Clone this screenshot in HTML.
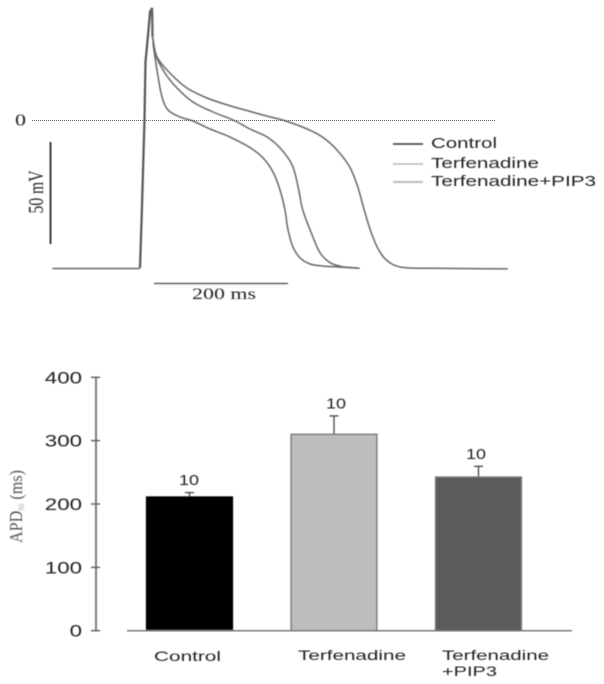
<!DOCTYPE html>
<html lang="en">
<head>
<meta charset="utf-8">
<title>Action potential traces and APD90 bar chart</title>
<style>
  html, body { margin: 0; padding: 0; background: #fff; }
  svg { display: block; }
  .sans { font-family: "Liberation Sans", sans-serif; fill: #222; }
  .serif { font-family: "Liberation Serif", serif; fill: #222; }
</style>
</head>
<body>
<svg id="figure" width="604" height="684" viewBox="0 0 604 684" xmlns="http://www.w3.org/2000/svg">
  <defs>
    <filter id="soft" x="-5%" y="-5%" width="110%" height="110%"><feGaussianBlur stdDeviation="0.4"/></filter>
  </defs>
  <rect width="604" height="684" fill="#fff"/>
  <line x1="32" y1="120.5" x2="496" y2="120.5" stroke="#666" stroke-width="1" stroke-dasharray="1 1" shape-rendering="crispEdges"/>
  <g filter="url(#soft)">
    <g id="traces">
      <text class="serif" x="15" y="125.5" font-size="17" textLength="11" lengthAdjust="spacingAndGlyphs">0</text>
      <line x1="50.5" y1="142" x2="50.5" y2="244" stroke="#111" stroke-width="1.6"/>
      <text class="serif" transform="translate(43,213.5) rotate(-90)" font-size="21" textLength="43" lengthAdjust="spacingAndGlyphs">50 mV</text>
      <line x1="154" y1="283.5" x2="288" y2="283.5" stroke="#444" stroke-width="1.2"/>
      <text class="serif" x="192" y="299" font-size="16" textLength="64" lengthAdjust="spacingAndGlyphs">200 ms</text>
      <line x1="393" y1="144" x2="423" y2="144" stroke="#333" stroke-width="1.5"/>
      <line x1="393" y1="164" x2="423" y2="164" stroke="#aaa" stroke-width="1.3"/>
      <line x1="393" y1="182" x2="423" y2="182" stroke="#b5b5b5" stroke-width="1.8"/>
      <text class="sans" x="431" y="148" font-size="15" textLength="66" lengthAdjust="spacingAndGlyphs">Control</text>
      <text class="sans" x="431" y="168" font-size="15" textLength="108" lengthAdjust="spacingAndGlyphs">Terfenadine</text>
      <text class="sans" x="431" y="186" font-size="15" textLength="165" lengthAdjust="spacingAndGlyphs">Terfenadine+PIP3</text>
    </g>
    <g id="bars">
      <text class="serif" transform="translate(22,543) rotate(-90)" font-size="18" style="fill:#555" textLength="73" lengthAdjust="spacingAndGlyphs">APD<tspan font-size="8" dy="2" style="fill:#aaa">90</tspan><tspan dy="-2"> (ms)</tspan></text>
    </g>
  </g>
</svg>
<script>
// Action potential data: time (ms) and membrane potential (mV)
const restTime = [-131, -60, -1.5];
const restMv = [-72.8, -72.8, -72.8];
const upstrokeTime = [0, 2.5, 6.7, 8.2, 12, 15, 18];
const upstrokeMv = [-72.5, -47.5, 0, 28.4, 41.7, 53, 55];
const controlTime = [19.4, 25.4, 32.8, 41.8, 59.7, 79, 104.5, 134, 164, 183.6, 198.5, 209, 216.4, 221, 228.4, 239, 254, 273, 294, 328];
const controlMv = [37.7, 24.5, 11.3, 4.9, 1.5, -0.5, -4.4, -8.3, -13.5, -18.6, -25.5, -34.3, -44.1, -53.9, -62.3, -67.6, -70.6, -71.6, -72, -72.7];
const terfenadineTime = [18.7, 22.4, 37.3, 55.2, 79, 109, 139, 164, 189.6, 209, 227, 236, 243, 257, 269, 284, 303, 324];
const terfenadineMv = [41, 32.8, 23, 15.7, 8.8, 3.9, 0, -4.4, -8.3, -13.7, -22, -32.8, -44.1, -56.4, -65.2, -70, -72, -72.5];
const pip3Time = [18.7, 25.4, 44.8, 70, 100, 130, 164, 194, 213, 246, 272, 294, 313, 325, 336, 348, 361, 376, 393, 437, 549];
const pip3Mv = [41, 30.9, 23, 15.7, 10.8, 7.4, 4.2, 1.5, 0, -3.9, -8.3, -14.7, -23, -32.8, -45.6, -57.8, -66.2, -70.6, -72.3, -72.7, -73];

// Bar chart data
const barCategories = ['Control', 'Terfenadine', 'Terfenadine+PIP3'];
const barValues = [211, 310, 242.5];
const barErrors = [7, 29, 17];
const barCounts = ['10', '10', '10'];
const yTicks = [0, 100, 200, 300, 400];

const NS = 'http://www.w3.org/2000/svg';
const xT = t => 140 + 0.67 * t;
const yV = v => 120 - 2.04 * v;
const yB = v => 630.7 - 0.6335 * v;
const xBar = i => 146 + 144.5 * i;
const BAR_W = 87;
const barFill = ['#000000', '#bdbdbd', '#5c5c5c'];
const barStroke = ['#000000', '#777777', '#777777'];

function tangent(a, b) {
  const dx = b[0] - a[0], dy = b[1] - a[1], len = Math.hypot(dx, dy) || 1;
  return [dx / len, dy / len];
}
function smoothPath(pts) {
  let d = 'M' + pts[0][0].toFixed(1) + ' ' + pts[0][1].toFixed(1);
  for (let i = 0; i < pts.length - 1; i++) {
    const p0 = pts[Math.max(i - 1, 0)], p1 = pts[i], p2 = pts[i + 1], p3 = pts[Math.min(i + 2, pts.length - 1)];
    const h = Math.hypot(p2[0] - p1[0], p2[1] - p1[1]) / 3;
    const t1 = tangent(p0, p2), t2 = tangent(p1, p3);
    const c1x = p1[0] + t1[0] * h, c1y = p1[1] + t1[1] * h;
    const c2x = p2[0] - t2[0] * h, c2y = p2[1] - t2[1] * h;
    d += 'C' + c1x.toFixed(1) + ' ' + c1y.toFixed(1) + ' ' + c2x.toFixed(1) + ' ' + c2y.toFixed(1) + ' ' + p2[0].toFixed(1) + ' ' + p2[1].toFixed(1);
  }
  return d;
}
function toPts(times, volts) {
  return times.map((t, i) => [xT(t), yV(volts[i])]);
}
function make(tag, attrs, parent) {
  const el = document.createElementNS(NS, tag);
  for (const k in attrs) el.setAttribute(k, attrs[k]);
  parent.appendChild(el);
  return el;
}

const traces = document.getElementById('traces');
const bars = document.getElementById('bars');

// Repolarisation traces
const decayStyle = { fill: 'none', stroke: '#666', 'stroke-width': 1.5 };
const controlPath = make('path', Object.assign({ d: smoothPath(toPts(controlTime, controlMv)) }, decayStyle), traces);


const terfPath = make('path', Object.assign({ d: smoothPath(toPts(terfenadineTime, terfenadineMv)) }, decayStyle), traces);


const pip3Path = make('path', Object.assign({ d: smoothPath(toPts(pip3Time, pip3Mv)) }, decayStyle), traces);



// Shared resting segment
const restPts = toPts(restTime, restMv).concat(toPts(upstrokeTime.slice(0, 1), upstrokeMv.slice(0, 1)));
const restPath = make('polyline', { points: restPts.map(p => p.join(',')).join(' '), fill: 'none', stroke: '#666', 'stroke-width': 1.5 }, traces);



// Shared upstroke
const upPts = toPts(upstrokeTime, upstrokeMv);
const upPath = make('polyline', { points: upPts.map(p => p.join(',')).join(' '), fill: 'none', stroke: '#555', 'stroke-width': 2.2 }, traces);



// Shared early falling limb from the peak
const peakLast = upPts[upPts.length - 1];
const fallFirst = toPts(terfenadineTime.slice(0, 1), terfenadineMv.slice(0, 1))[0];
const fallPath = make('line', { x1: peakLast[0], y1: peakLast[1], x2: fallFirst[0], y2: fallFirst[1], stroke: '#666', 'stroke-width': 2.4 }, traces);



// Y axis
const yAxis = make('line', { x1: 96, x2: 96, y1: yB(yTicks[yTicks.length - 1]), y2: yB(yTicks[0]), stroke: '#666', 'stroke-width': 1.7 }, bars);


yTicks.forEach(v => {
  const tick = make('line', { x1: 91, x2: 100, y1: yB(v), y2: yB(v), stroke: '#666', 'stroke-width': 1.5 }, bars);
  
  
  const label = make('text', { x: 82, y: yB(v) + 6, 'text-anchor': 'end', class: 'sans', 'font-size': 16.5, textLength: String(v).length * 12.4, lengthAdjust: 'spacingAndGlyphs' }, bars);
  
  
  label.textContent = v;
});

// Bars with error bars and n labels
barValues.forEach((v, i) => {
  const x = xBar(i), cx = x + BAR_W / 2, top = yB(v), errTop = yB(v + barErrors[i]);
  const stem = make('line', { x1: cx, x2: cx, y1: errTop, y2: top, stroke: '#444', 'stroke-width': 1.3 }, bars);
  
  
  const cap = make('line', { x1: cx - 4.5, x2: cx + 4.5, y1: errTop, y2: errTop, stroke: '#444', 'stroke-width': 1.3 }, bars);
  
  
  const rect = make('rect', { x: x + 0.6, y: top, width: BAR_W - 1.2, height: yB(0) - top, fill: barFill[i], stroke: barStroke[i], 'stroke-width': 1.4 }, bars);
  
  
  const n = make('text', { x: cx + (i === 2 ? -2.5 : i === 1 ? 2 : -0.5), y: errTop - 7.5, 'text-anchor': 'middle', class: 'sans', 'font-size': 15, textLength: 20, lengthAdjust: 'spacingAndGlyphs' }, bars);
  
  
  n.textContent = barCounts[i];
});

// Baseline
const baseline = make('line', { x1: 127, x2: 572, y1: yB(0), y2: yB(0), stroke: '#777', 'stroke-width': 1.5 }, bars);



// Category labels
const catControl = make('text', { x: 154, y: 661, class: 'sans', 'font-size': 14, textLength: 67, lengthAdjust: 'spacingAndGlyphs' }, bars);


catControl.textContent = barCategories[0];
const catTerf = make('text', { x: 298, y: 660, class: 'sans', 'font-size': 14, textLength: 108, lengthAdjust: 'spacingAndGlyphs' }, bars);


catTerf.textContent = barCategories[1];
const pip3Parts = barCategories[2].split('+');
const catPipA = make('text', { x: 442, y: 660, class: 'sans', 'font-size': 14, textLength: 107, lengthAdjust: 'spacingAndGlyphs' }, bars);


catPipA.textContent = pip3Parts[0];
const catPipB = make('text', { x: 442, y: 676, class: 'sans', 'font-size': 14, textLength: 55, lengthAdjust: 'spacingAndGlyphs' }, bars);


catPipB.textContent = '+' + pip3Parts[1];
</script>
</body>
</html>
